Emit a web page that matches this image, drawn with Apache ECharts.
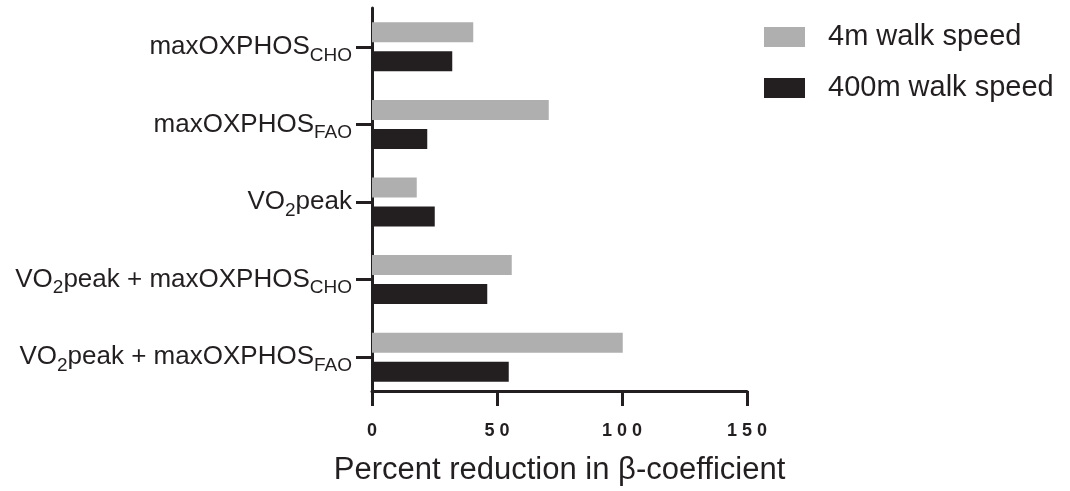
<!DOCTYPE html>
<html>
<head>
<meta charset="utf-8">
<script src="https://cdn.jsdelivr.net/npm/echarts@6/dist/echarts.min.js"></script>
<style>
  html, body { margin: 0; padding: 0; background: #fff; }
  #chart { width: 1070px; height: 491px; }
</style>
</head>
<body>
<div id="chart"></div>
<script>
// Categories (top to bottom); "_{...}" marks a subscript
const categories = [
  'maxOXPHOS_{CHO}',
  'maxOXPHOS_{FAO}',
  'VO_{2}peak',
  'VO_{2}peak + maxOXPHOS_{CHO}',
  'VO_{2}peak + maxOXPHOS_{FAO}'
];
const seriesNames = ['4m walk speed', '400m walk speed'];
const walk4m = [40.5, 70.7, 17.9, 55.9, 100.3];
const walk400m = [32.1, 22.1, 25.1, 46.1, 54.7];
const xTicks = [0, 50, 100, 150];
const xTitle = 'Percent reduction in \u03b2-coefficient';

const FONT = "'Liberation Sans', Arial, Helvetica, sans-serif";
const INK = '#231f20';
const GRAY = '#afafb0';

function toRich(label) {
  // split into plain and subscript pieces
  const parts = label.split(/(_\{[^}]*\})/);
  return parts.filter(p => p.length).map(p => {
    const m = p.match(/^_\{([^}]*)\}$/);
    return m ? '{s|' + m[1] + '}' : '{m|' + p + '}';
  }).join('');
}

const chart = echarts.init(document.getElementById('chart'), null, { renderer: 'canvas' });
chart.setOption({
  animation: false,
  backgroundColor: '#ffffff',
  grid: { left: 372, top: 8, right: 323, bottom: 93, containLabel: false },
  legend: {
    orient: 'vertical',
    left: 764,
    top: 22,
    padding: 0,
    itemWidth: 41,
    itemHeight: 20,
    itemGap: 21,
    icon: 'rect',
    data: seriesNames,
    textStyle: {
      fontFamily: FONT,
      fontSize: 29,
      color: INK,
      lineHeight: 30,
      padding: [0, 0, 0, 18]
    }
  },
  xAxis: {
    type: 'value',
    min: xTicks[0],
    max: xTicks[xTicks.length - 1],
    interval: xTicks[1] - xTicks[0],
    offset: -5,
    axisLine: { show: true, lineStyle: { color: INK, width: 3 } },
    axisTick: { show: true, length: 15, lineStyle: { color: INK, width: 3 } },
    splitLine: { show: false },
    axisLabel: {
      margin: 31,
      fontFamily: FONT,
      fontSize: 18,
      fontWeight: 'bold',
      color: INK,
      formatter: v => String(v).split('').join(' ')
    },
    name: xTitle,
    nameLocation: 'middle',
    nameGap: 64,
    nameTextStyle: { fontFamily: FONT, fontSize: 31, color: INK }
  },
  yAxis: {
    type: 'category',
    inverse: true,
    data: categories,
    axisLine: { show: true, lineStyle: { color: INK, width: 3 } },
    axisTick: { show: true, alignWithLabel: true, length: 16, lineStyle: { color: INK, width: 3 } },
    splitLine: { show: false },
    axisLabel: {
      margin: 20,
      formatter: v => toRich(v),
      rich: {
        m: { fontFamily: FONT, fontSize: 26, lineHeight: 36, color: INK },
        s: { fontFamily: FONT, fontSize: 19, lineHeight: 18, color: INK, verticalAlign: 'bottom' }
      }
    }
  },
  series: [
    {
      name: seriesNames[0],
      type: 'bar',
      data: walk4m,
      barWidth: 20,
      barGap: '45%',
      itemStyle: { color: GRAY }
    },
    {
      name: seriesNames[1],
      type: 'bar',
      data: walk400m,
      barWidth: 20,
      barGap: '45%',
      itemStyle: { color: INK }
    }
  ]
});
</script>
</body>
</html>
